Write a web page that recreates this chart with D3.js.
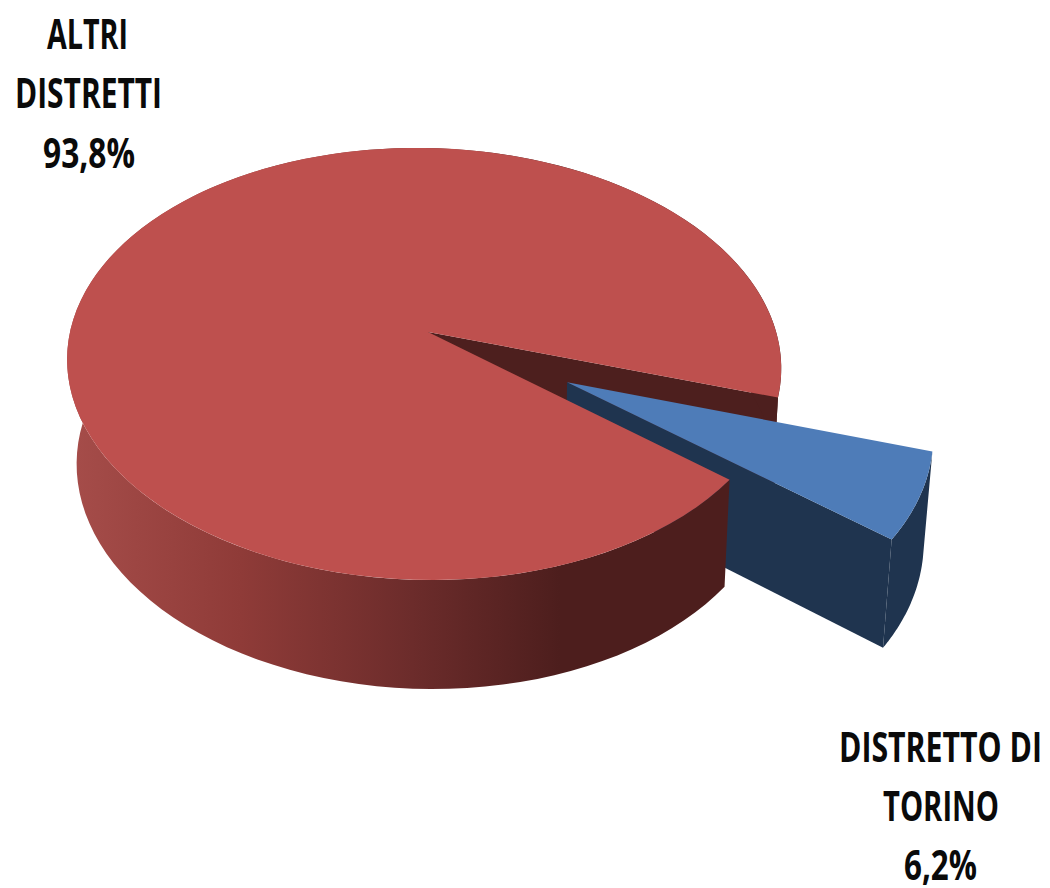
<!DOCTYPE html>
<html>
<head>
<meta charset="utf-8">
<script src="https://cdn.jsdelivr.net/npm/d3@7/dist/d3.min.js"></script>
<style>
html,body{margin:0;padding:0;background:#fff}
text{font-family:"Liberation Sans Narrow","Open Sans","Liberation Sans",sans-serif;font-weight:700;fill:#0a0a0a}
</style>
</head>
<body>
<svg id="chart" width="1050" height="888"></svg>
<script>
// Share of the total by district
const categories = ["DISTRETTO DI TORINO", "ALTRI DISTRETTI"];
const shares = [6.2, 93.8];
const shareLabels = ["6,2%", "93,8%"];

const labelLines = [
  {t:"ALTRI", x0:47, x1:128, base:49},
  {t:"DISTRETTI", x0:15, x1:162, base:108},
  {t:shareLabels[1], x0:43, x1:135, base:168},
  {t:"DISTRETTO DI", x0:839, x1:1042, base:762},
  {t:"TORINO", x0:883, x1:999, base:821},
  {t:shareLabels[0], x0:904, x1:977, base:880}
];

const svg = d3.select("#chart");
const rad = d => d * Math.PI / 180;

// Slices start just below the horizontal on the right, running clockwise
const arcs = d3.pie().sort(null).value(d => d)
  .startAngle(rad(107.5)).endAngle(rad(107.5 + 360))(shares);

// Perspective ground plane: disc coordinates to screen
const cx = 428, cy = 332, A = 353, B = 211.3, C = 8, kv = 0.148, ku = -0.014;
function project(u, v) {
  const w = 1 - kv * v - ku * u;
  return [cx + (A * u + C * v) / w, cy + B * v / w];
}
// The same point on the underside of the disc
const depth = 109, conv = 0.978, convX = 500;
const lower = p => [convX + (p[0] - convX) * conv, p[1] + depth * (0.92 + 0.08 * (p[1] - 148) / 432)];

const onDisc = (a, o) => project(o[0] + Math.sin(a), o[1] - Math.cos(a));
const rimPts = (a0, a1, o) => d3.range(0, 121).map(i => onDisc(a0 + (a1 - a0) * i / 120, o));
const path = d3.line();

function poly(points, fill) {
  svg.append("path").attr("d", path(points) + "Z").attr("fill", fill);
}

const red = arcs[1], blue = arcs[0];
const redOff = [0, 0];
const explode = 0.43;
const mid = (blue.startAngle + blue.endAngle) / 2;
const blueOff = [explode * Math.sin(mid), -explode * Math.cos(mid) * 1.12];

// Gradient along the outer wall of the large slice
const defs = svg.append("defs");
const grad = defs.append("linearGradient").attr("id", "wallShade")
  .attr("gradientUnits", "userSpaceOnUse").attr("x1", 68).attr("x2", 560).attr("y1", 0).attr("y2", 0);
[["0%", "#a64d4a"], ["35%", "#8f3b38"], ["70%", "#6c2c2b"], ["100%", "#4d1e1d"]].forEach(s =>
  grad.append("stop").attr("offset", s[0]).attr("stop-color", s[1]));

const redDark = "#4d1f1e", blueDark = "#1f344f", redTop = "#be504e", blueTop = "#4e7cb8";

// Far cut face of the large slice and the piece of rim beside it
const apex = project(0, 0);
const farCorner = onDisc(red.endAngle, redOff);
poly([apex, farCorner, lower(farCorner), lower(apex)], redDark);
const backRim = rimPts(red.endAngle - rad(30), red.endAngle, redOff);
poly(backRim.concat(backRim.map(lower).reverse()), redDark);

// Detached slice: walls first, then its top
const bApex = project(blueOff[0], blueOff[1]);
const bStart = onDisc(blue.startAngle, blueOff), bEnd = onDisc(blue.endAngle, blueOff);
poly([bApex, bEnd, lower(bEnd), lower(bApex)], blueDark);
const bRim = rimPts(blue.startAngle, blue.endAngle, blueOff);
poly(bRim.concat(bRim.map(lower).reverse()), blueDark);
poly([bApex, ...bRim], blueTop);

// Large slice: front wall, near cut edge, then its top
const frontRim = rimPts(red.startAngle, red.endAngle - rad(30), redOff);
poly(frontRim.concat(frontRim.map(lower).reverse()), "url(#wallShade)");
poly([apex, ...rimPts(red.startAngle, red.endAngle, redOff)], redTop);

// Labels
svg.selectAll("text.lbl").data(labelLines).join("text")
  .attr("class", "lbl")
  .attr("x", d => d.x0).attr("y", d => d.base)
  .attr("font-size", 42)
  .attr("textLength", d => d.x1 - d.x0)
  .attr("lengthAdjust", "spacingAndGlyphs")
  .text(d => d.t);
</script>
</body>
</html>
